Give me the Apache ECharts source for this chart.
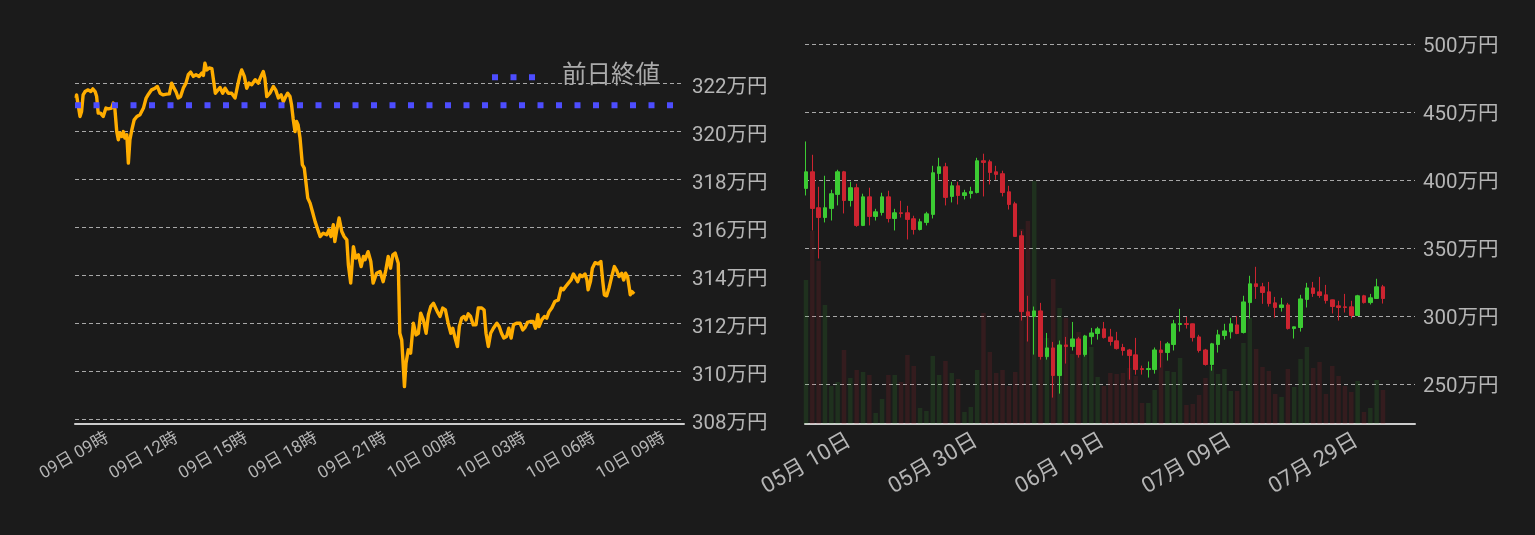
<!DOCTYPE html>
<html><head><meta charset="utf-8">
<script src="https://cdn.jsdelivr.net/npm/echarts@6/dist/echarts.min.js"></script>
<style>html,body{margin:0;padding:0;background:#1b1b1b;}#c{width:1535px;height:535px;}</style>
</head><body><div id="c"></div>
<script>
// ---- Left chart: intraday price (万円), 09日 -> 10日 ----
const lineTimes = ['07:39','07:40','07:44','07:49','07:53','07:57','08:02','08:10','08:17','08:22','08:28','08:32','08:36','08:42','08:49','08:56','09:02','09:11','09:15','09:19','09:24','09:28','09:32','09:37','09:41','09:45','09:50','09:54','09:58','10:03','10:09','10:16','10:24','10:33','10:40','10:46','10:54','11:03','11:09','11:16','11:24','11:33','11:40','11:46','11:52','11:57','12:03','12:09','12:16','12:23','12:29','12:35','12:42','12:49','12:57','13:04','13:08','13:12','13:17','13:23','13:30','13:35','13:39','13:44','13:51','13:58','14:04','14:12','14:21','14:30','14:37','14:43','14:47','14:54','15:00','15:06','15:13','15:22','15:30','15:37','15:43','15:47','15:52','16:00','16:09','16:15','16:22','16:29','16:35','16:41','16:46','16:52','16:56','17:00','17:05','17:09','17:13','17:18','17:24','17:29','17:33','17:38','17:44','17:50','17:57','18:04','18:10','18:18','18:27','18:33','18:38','18:44','18:48','18:53','18:59','19:06','19:12','19:19','19:23','19:29','19:36','19:42','19:49','19:56','20:02','20:06','20:14','20:21','20:27','20:36','20:45','20:53','21:00','21:06','21:12','21:18','21:24','21:28','21:32','21:36','21:41','21:45','21:48','21:52','21:58','22:04','22:11','22:18','22:24','22:30','22:37','22:44','22:50','22:56','23:03','23:07','23:13','23:20','23:27','23:34','23:41','23:48','23:53','23:59','00:05','00:10','00:16','00:22','00:27','00:33','00:39','00:46','00:53','00:59','01:08','01:14','01:19','01:25','01:31','01:38','01:47','01:53','01:59','02:05','02:12','02:18','02:24','02:30','02:38','02:47','02:54','03:00','03:06','03:13','03:21','03:27','03:33','03:36','03:43','03:50','03:56','04:02','04:09','04:17','04:26','04:33','04:39','04:45','04:52','04:59','05:05','05:09','05:16','05:22','05:28','05:35','05:40','05:43','05:49','05:54','06:01','06:09','06:16','06:21','06:25','06:31','06:37','06:44','06:51','06:57','07:03','07:10','07:15','07:20','07:25','07:29','07:32','07:36','07:42'];
const lineValues = [321.38,321.51,321.44,320.61,320.82,321.51,321.65,321.72,321.65,321.76,321.65,321.44,320.75,320.75,320.61,320.96,320.93,320.96,321.17,320.96,319.98,319.64,319.92,319.78,319.98,319.71,319.85,318.67,319.64,320.05,320.47,320.61,320.68,320.96,321.38,321.54,321.72,321.79,321.86,321.58,321.51,321.54,321.55,322.00,321.79,321.65,321.38,321.44,321.79,322.00,322.35,322.46,322.28,322.35,322.28,322.42,322.32,322.83,322.55,322.63,322.60,322.60,321.58,321.65,321.82,321.58,321.79,321.58,321.58,321.38,321.93,322.35,322.55,322.28,321.79,322.00,321.93,322.14,322.00,322.28,322.48,322.21,321.44,321.58,321.86,321.72,321.38,321.51,321.23,321.44,321.58,321.44,321.10,320.54,319.98,320.40,320.26,319.71,318.60,318.46,317.90,317.21,317.00,316.65,316.23,315.89,315.61,315.75,315.68,315.89,315.61,316.10,315.40,315.89,316.38,315.82,315.61,315.47,314.43,313.67,315.19,314.71,314.85,314.36,314.78,314.64,314.98,314.57,313.67,314.08,314.15,313.73,314.22,314.78,314.29,314.85,314.92,314.98,314.50,311.58,311.30,310.19,309.36,310.33,310.89,310.75,312.00,311.51,311.58,312.42,312.14,311.58,312.35,312.69,312.83,312.90,312.48,312.28,312.63,312.55,312.00,311.58,311.79,311.38,311.03,311.86,312.21,312.28,312.14,312.39,312.28,311.93,311.93,312.63,312.63,312.55,311.58,311.03,311.58,311.79,312.00,311.86,311.58,311.38,311.44,311.79,311.38,311.93,312.00,312.00,311.72,311.83,312.03,312.07,312.07,311.79,312.35,311.86,312.14,312.28,312.21,312.48,312.63,312.90,312.97,313.46,313.39,313.53,313.67,313.80,314.05,313.94,313.73,314.01,313.94,314.05,313.80,313.39,313.73,314.29,314.52,314.47,314.57,313.73,313.18,313.14,313.46,313.94,314.36,314.19,313.94,314.08,313.80,314.08,313.94,313.53,313.18,313.32,313.22];
const lineStartDay = 9;
const prevClose = 321.08;
const leftTickHours = [9, 12, 15, 18, 21, 24, 27, 30, 33];
const leftPriceTicks = [308, 310, 312, 314, 316, 318, 320, 322];

// ---- Right chart: daily candles (万円) starting 05月04日 ----
const candleStartDate = '2022-05-04';
const candleOpen  = [393.9,406.1,379.7,372.5,379.2,389.5,406.1,385.0,394.4,366.7,387.7,373.3,376.2,387.7,371.8,376.0,376.0,371.6,363.7,368.9,374.8,404.9,409.8,388.0,395.8,388.7,390.2,390.9,414.2,413.5,406.1,404.7,391.4,382.6,359.1,303.2,299.8,303.9,270.3,276.7,256.4,278.9,277.7,283.3,271.8,285.0,287.3,290.7,284.8,281.9,277.0,275.2,271.6,261.5,260.8,260.8,275.2,273.3,279.2,293.9,294.6,294.4,284.8,275.2,264.5,279.2,285.8,288.5,293.6,288.0,310.0,323.8,321.6,317.9,309.8,306.4,308.3,290.9,291.7,312.3,320.8,317.9,315.7,312.0,307.6,306.9,306.9,300.5,315.0,310.0,313.0,321.6];
const candleClose = [406.1,379.2,372.5,379.7,390.0,406.1,385.0,394.4,366.7,387.7,373.3,376.7,387.7,371.8,376.0,375.5,371.1,363.7,369.4,375.2,405.4,409.8,387.3,395.8,388.7,390.7,391.7,414.2,413.0,405.6,404.2,390.9,382.1,358.6,303.4,300.2,303.9,270.3,276.7,256.4,278.9,277.7,283.3,271.8,285.5,287.7,290.7,284.3,281.4,276.2,274.8,271.1,260.8,260.8,261.5,275.2,273.3,279.7,294.4,294.6,293.9,284.3,274.8,264.5,279.7,286.3,289.2,294.4,287.3,310.5,323.8,321.8,317.4,309.3,306.4,308.3,290.9,292.2,312.7,320.8,316.7,315.2,311.5,307.1,306.4,306.4,300.5,315.0,310.0,313.5,321.6,313.0];
const candleLow   = [388.7,363.0,342.4,368.9,370.3,381.4,375.5,380.6,365.7,366.2,366.7,370.3,374.0,368.9,363.0,372.5,356.4,360.0,363.0,366.7,371.8,400.2,381.4,383.6,382.1,385.8,386.5,390.2,388.0,396.8,400.2,388.0,378.4,358.2,296.8,281.4,271.8,268.1,268.1,240.2,243.1,265.2,274.8,269.6,270.3,279.2,282.8,283.6,278.4,275.5,271.1,253.4,257.1,257.1,254.9,257.8,262.3,267.4,274.8,288.7,290.9,281.4,273.3,263.7,260.0,273.3,282.8,283.6,286.8,287.3,298.3,312.7,309.1,307.1,299.0,303.4,290.2,283.6,288.7,306.4,314.2,313.5,309.3,302.0,296.8,302.7,298.3,300.5,309.3,308.6,312.7,309.3];
const candleHigh  = [428.4,418.6,395.1,403.2,392.9,407.6,406.8,398.8,397.3,390.0,394.4,378.9,390.7,392.2,378.9,384.8,381.1,373.8,371.6,376.7,410.5,416.4,412.7,398.8,398.8,392.9,395.1,416.4,419.4,415.0,410.5,406.9,395.8,384.1,362.7,315.0,307.1,309.8,287.7,281.1,282.1,284.8,295.8,284.8,286.3,291.4,292.2,295.8,290.7,288.5,279.7,276.0,284.1,263.7,266.7,277.0,281.9,281.1,297.3,305.4,299.5,294.6,286.3,276.0,280.4,290.0,294.4,298.8,300.2,315.0,329.7,336.3,324.5,325.2,314.2,313.5,309.8,292.4,315.7,324.5,325.2,328.9,323.0,312.2,311.3,316.4,311.3,315.7,315.7,316.4,327.5,323.0];
const volumes     = [3600,4825,4075,2975,950,1050,1850,1150,1350,1300,1225,275,625,1225,1225,1050,1725,1450,400,325,1700,1225,1575,1275,1125,300,425,1350,2775,1800,1275,1350,950,1300,4875,5075,6075,1650,2150,3625,2900,2650,1750,2300,1725,1925,1175,950,1275,1250,1275,1400,1200,525,525,850,1825,1325,1300,1650,475,500,725,1150,1450,1250,1375,825,825,2025,2650,1875,1425,1325,750,675,1375,925,1625,1925,1400,1550,750,1450,1200,950,800,1075,300,400,1100,850];
const rightTickDays = [6, 26, 46, 66, 86];
const rightPriceTicks = [250, 300, 350, 400, 450, 500];

// ---- build ----
const pad2 = n => (n < 10 ? '0' : '') + n;
const lineHours = [];
let dayOff = 0, prevMin = -1;
lineTimes.forEach(t => {
  const [h, m] = t.split(':').map(Number);
  const mins = h * 60 + m;
  if (prevMin >= 0 && mins < prevMin) dayOff += 24;
  prevMin = mins;
  lineHours.push(dayOff + (lineStartDay - 9) * 24 + mins / 60);
});
const lineData = lineHours.map((h, i) => [h, lineValues[i]]);

const X0MIN = 7.6, X0MAX = 33.85;
const startMs = Date.parse(candleStartDate + 'T00:00:00Z');
const dayLabel = d => {
  const dt = new Date(startMs + Math.round(d) * 86400000);
  return pad2(dt.getUTCMonth() + 1) + '月 ' + pad2(dt.getUTCDate()) + '日';
};
const hourLabel = v => {
  const d = 9 + Math.floor(v / 24);
  const h = Math.round(v - Math.floor(v / 24) * 24);
  return pad2(d) + '日 ' + pad2(h) + '時';
};

const UP = '#3ccb33', DOWN = '#cc2430';
const candleData = candleOpen.map((o, i) => [i, o, candleClose[i], candleLow[i], candleHigh[i]]);
const volData = volumes.map((v, i) => ({
  value: [i, v],
  itemStyle: { color: candleClose[i] >= candleOpen[i] ? 'rgba(60,203,51,0.13)' : 'rgba(204,36,48,0.14)' }
}));

const FONT = "Roboto, 'Noto Sans CJK JP', sans-serif";
const LABEL = '#b5b5b5';
const splitLine = { show: true, lineStyle: { color: '#a8a8a8', width: 1, type: [4, 3] } };
const DOTS_ICON = 'path://M0,0h6v6h-6z M18.5,0h6v6h-6z M37,0h6v6h-6z';
const priceLabel = v => '{p|' + v + '万円}';

const chart = echarts.init(document.getElementById('c'), null, { renderer: 'canvas' });
chart.setOption({
  backgroundColor: '#1b1b1b',
  animation: false,
  textStyle: { fontFamily: FONT },
  legend: {
    data: [{ name: '前日終値', icon: DOTS_ICON }],
    left: 487, top: 60,
    itemWidth: 43, itemHeight: 6,
    textStyle: { color: '#aaaaaa', fontSize: 24.5, fontFamily: FONT, padding: [0, 0, 0, 22] }
  },
  grid: [
    { left: 75, right: 851, top: 50, bottom: 111 },
    { left: 805, right: 120, top: 44, bottom: 111 }
  ],
  xAxis: [
    {
      type: 'value', gridIndex: 0, min: X0MIN, max: X0MAX,
      axisLine: { show: true, onZero: false, lineStyle: { color: '#cccccc', width: 2 } },
      axisTick: { show: false, customValues: leftTickHours },
      splitLine: { show: false },
      axisLabel: { customValues: leftTickHours, rotate: 30, margin: 13, color: LABEL, fontSize: 17, fontFamily: FONT, formatter: hourLabel }
    },
    {
      type: 'value', gridIndex: 1, min: -0.15, max: 96.05,
      axisLine: { show: true, onZero: false, lineStyle: { color: '#cccccc', width: 2 } },
      axisTick: { show: false, customValues: rightTickDays },
      splitLine: { show: false },
      axisLabel: { customValues: rightTickDays, rotate: 30, margin: 6, verticalAlign: 'top', color: LABEL, fontSize: 22, fontFamily: FONT, formatter: dayLabel }
    }
  ],
  yAxis: [
    {
      type: 'value', gridIndex: 0, position: 'right', min: 307.8, max: 323.38,
      axisLine: { show: false }, axisTick: { show: false, customValues: leftPriceTicks },
      splitLine: splitLine,
      axisLabel: { customValues: leftPriceTicks, color: LABEL, fontFamily: FONT, margin: 8, formatter: priceLabel,
        rich: { p: { color: LABEL, fontSize: 20.5, fontFamily: FONT, padding: [9, 0, 0, 0] } } }
    },
    {
      type: 'value', gridIndex: 1, position: 'right', min: 220.8, max: 500,
      axisLine: { show: false }, axisTick: { show: false, customValues: rightPriceTicks },
      splitLine: splitLine,
      axisLabel: { customValues: rightPriceTicks, color: LABEL, fontFamily: FONT, margin: 8, formatter: priceLabel,
        rich: { p: { color: LABEL, fontSize: 20.5, fontFamily: FONT, padding: [6, 0, 0, 0] } } }
    },
    {
      type: 'value', gridIndex: 1, min: 0, max: 9500, show: false,
      splitLine: { show: false }
    }
  ],
  series: [
    {
      name: '価格', type: 'line', xAxisIndex: 0, yAxisIndex: 0, data: lineData,
      showSymbol: false, symbol: 'none', silent: true,
      lineStyle: { color: '#ffad00', width: 3.4, join: 'round' }, itemStyle: { color: '#ffad00' }, z: 3
    },
    {
      name: '前日終値', type: 'line', xAxisIndex: 0, yAxisIndex: 0,
      data: [[X0MIN, prevClose], [X0MAX, prevClose]],
      showSymbol: false, symbol: 'none', silent: true,
      lineStyle: { color: '#4d4dff', width: 6, type: [6, 12.5], cap: 'butt' }, itemStyle: { color: '#4d4dff' }, z: 4
    },
    {
      name: '出来高', type: 'bar', xAxisIndex: 1, yAxisIndex: 2, data: volData,
      barWidth: 4.5, silent: true, z: 2
    },
    {
      name: 'ローソク足', type: 'candlestick', xAxisIndex: 1, yAxisIndex: 1,
      data: candleData, encode: { x: 0, y: [1, 2, 3, 4] }, barWidth: 4, silent: true, z: 3,
      itemStyle: { color: UP, color0: DOWN, borderColor: UP, borderColor0: DOWN, borderWidth: 1 }
    }
  ]
});
</script>
</body></html>
